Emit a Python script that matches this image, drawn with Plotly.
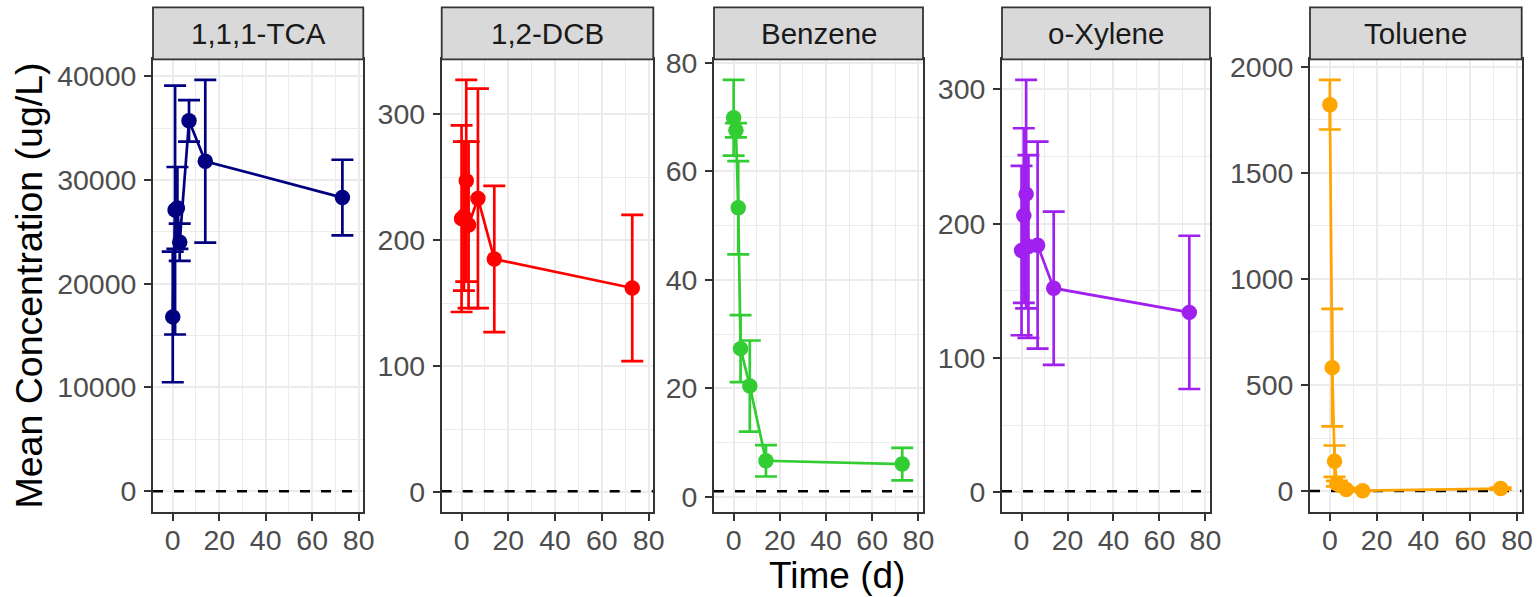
import plotly.graph_objects as go

# ---------------- data ----------------
time_d = [0, 1, 2, 3, 7, 14, 73]

compounds = ["1,1,1-TCA", "1,2-DCB", "Benzene", "o-Xylene", "Toluene"]

tca_mean = [16800, 27100, 27300, 24000, 35700, 31800, 28300]
tca_sd = [6300, 12000, 3950, 1800, 2000, 7850, 3650]

dcb_mean = [217, 219, 247, 212, 233, 185, 162]
dcb_sd = [74, 59, 80, 66, 87, 58, 58]

benz_mean = [69.9, 67.6, 53.3, 27.3, 20.4, 6.6, 6.0]
benz_sd = [7.0, 1.3, 8.6, 6.2, 8.4, 2.9, 3.0]

oxy_mean = [180, 206, 222, 183, 184, 152, 134]
oxy_sd = [63, 65, 85, 68, 77, 57, 57]

tol_mean = [1821, 582, 141, 35, 8, 2, 12]
tol_sd = [117, 277, 74, 13, 8, 1, 5]

threshold = 1

colors = ["#000080", "#FF0000", "#32CD32", "#A020F0", "#FFA500"]
y_dticks = [10000, 100, 20, 100, 500]

means = [tca_mean, dcb_mean, benz_mean, oxy_mean, tol_mean]
sds = [tca_sd, dcb_sd, benz_sd, oxy_sd, tol_sd]

# ---------------- layout geometry ----------------
W, H = 1540, 597
panel_px = [(153, 363.3), (441.7, 653.3), (714, 923), (1002, 1210), (1310, 1521.7)]
plot_top, plot_bot = 59.3, 511.7
strip_top = 7.3
x_range = [-8.5, 82]

def px_x(p):
    return p / W

def px_y(p):
    return (H - p) / H

fig = go.Figure()
shapes = []
annotations = []
FONT = "Liberation Sans, Arial, Helvetica, sans-serif"

for i, (name, m, s, col, dt) in enumerate(zip(compounds, means, sds, colors, y_dticks)):
    xa = "x" if i == 0 else f"x{i+1}"
    ya = "y" if i == 0 else f"y{i+1}"
    fig.add_trace(go.Scatter(
        x=time_d, y=m, xaxis=xa, yaxis=ya, mode="lines+markers",
        line=dict(color=col, width=2.7),
        marker=dict(color=col, size=15.5),
        error_y=dict(type="data", array=s, visible=True, color=col,
                     thickness=2.7, width=11),
        showlegend=False, name=name,
    ))
    lo = min(min(a - b for a, b in zip(m, s)), threshold)
    hi = max(max(a + b for a, b in zip(m, s)), threshold)
    pad = 0.05 * (hi - lo)
    x0, x1 = panel_px[i]
    axis_common = dict(
        showline=True, mirror=True, linecolor="#333333", linewidth=1.8,
        ticks="outside", ticklen=7, tickwidth=1.8, tickcolor="#333333",
        tickfont=dict(size=28.5, color="#4D4D4D", family=FONT),
        showgrid=True, gridcolor="#EBEBEB", gridwidth=2, zeroline=False,
        automargin=False,
    )
    fig.layout[("xaxis" if i == 0 else f"xaxis{i+1}")] = dict(
        domain=[px_x(x0), px_x(x1)], anchor=ya, range=x_range,
        tickmode="linear", tick0=0, dtick=20, ticklabelstandoff=-5,
        minor=dict(tick0=0, dtick=10, showgrid=True, gridcolor="#EBEBEB",
                   gridwidth=1.1, ticks=""),
        **axis_common,
    )
    fig.layout[("yaxis" if i == 0 else f"yaxis{i+1}")] = dict(
        domain=[px_y(plot_bot), px_y(plot_top)], anchor=xa,
        range=[lo - pad, hi + pad], ticklabelstandoff=2,
        tickmode="linear", tick0=0, dtick=dt, tickformat="d",
        minor=dict(tick0=0, dtick=dt / 2, showgrid=True, gridcolor="#EBEBEB",
                   gridwidth=1.1, ticks=""),
        **axis_common,
    )
    # threshold dashed line
    shapes.append(dict(type="line", xref=xa, yref=ya,
                       x0=x_range[0], x1=x_range[1], y0=threshold, y1=threshold,
                       layer="between",
                       line=dict(color="black", width=2.5, dash="10px,11px")))
    # strip
    shapes.append(dict(type="rect", xref="paper", yref="paper",
                       x0=px_x(x0), x1=px_x(x1), y0=px_y(plot_top), y1=px_y(strip_top),
                       fillcolor="#D9D9D9", line=dict(color="#333333", width=1.8),
                       layer="above"))
    annotations.append(dict(text=name, xref="paper", yref="paper",
                            x=px_x((x0 + x1) / 2), y=px_y((strip_top + plot_top) / 2),
                            xanchor="center", yanchor="middle", showarrow=False,
                            font=dict(size=29.5, color="#1A1A1A", family=FONT)))

annotations.append(dict(text="Mean Concentration (ug/L)", xref="paper", yref="paper",
                        x=px_x(28), y=px_y((plot_top + plot_bot) / 2), textangle=-90,
                        xanchor="center", yanchor="middle", showarrow=False,
                        font=dict(size=37.5, color="black", family=FONT)))
annotations.append(dict(text="Time (d)", xref="paper", yref="paper",
                        x=px_x(837), y=px_y(575),
                        xanchor="center", yanchor="middle", showarrow=False,
                        font=dict(size=37, color="black", family=FONT)))

fig.update_layout(
    width=W, height=H, margin=dict(l=0, r=0, t=0, b=0, autoexpand=False),
    paper_bgcolor="white", plot_bgcolor="white",
    shapes=shapes, annotations=annotations,
    font=dict(family=FONT),
)

fig.write_html("out.html", config={"displayModeBar": False},
               post_script="document.body.style.margin='0';document.body.style.overflow='hidden';")
